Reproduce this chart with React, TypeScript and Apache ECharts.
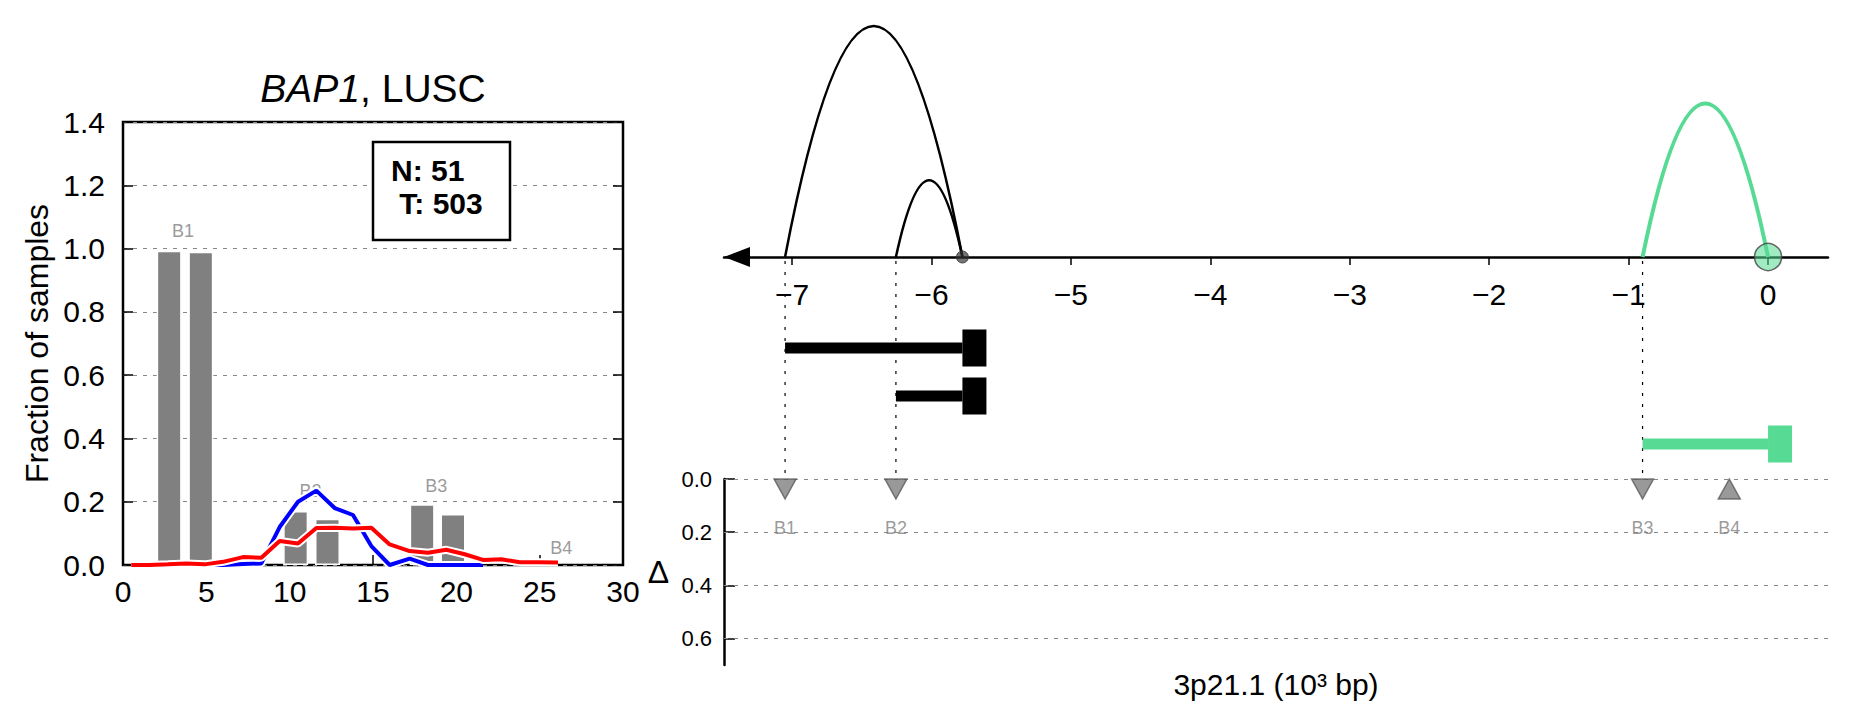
import React, { useEffect, useRef } from 'react';
import * as echarts from 'echarts';

// ---------------- Left panel: histogram ----------------
const barCenters = [2.77, 4.67, 10.36, 12.27, 17.95, 19.8];
const barValues = [0.993, 0.99, 0.171, 0.146, 0.192, 0.161];
const barGroupNames = ['B1', 'B2', 'B3', 'B4'];
const barGroupLabelX = [3.6, 11.25, 18.8, 26.3];
const barGroupLabelY = [1.055, 0.234, 0.249, 0.054];
const curveX = [0.5, 1.6, 2.7, 3.8, 4.9, 6.0, 7.2, 8.3, 9.4, 10.5, 11.6, 12.7, 13.8, 14.9, 16.0, 17.2, 18.3, 19.4, 20.5, 21.6, 22.7, 23.8, 24.9, 26.1];
const redCurve = [0, 0, 0.002, 0.005, 0.002, 0.01, 0.025, 0.023, 0.076, 0.068, 0.117, 0.118, 0.115, 0.118, 0.065, 0.044, 0.039, 0.048, 0.034, 0.016, 0.018, 0.009, 0.009, 0.008];
const blueCurve = [0, 0, 0, 0, 0, 0, 0.003, 0.005, 0.12, 0.2, 0.235, 0.18, 0.158, 0.06, 0, 0.02, 0, 0, 0, 0];
const sampleCounts = ['N: 51', ' T: 503'];
const histTitleItalic = 'BAP1';
const histTitleRest = ', LUSC';

// ---------------- Right panel: locus ----------------
const locusTicks = [-7, -6, -5, -4, -3, -2, -1, 0];
const arcStart = [-7.05, -6.255, -0.9];
const arcEnd = [-5.778, -5.778, 0];
const arcHeight = [0.962, 0.32, 0.64];
const arcGroup = [0, 0, 1];
const tssPos = [-5.778, 0];
const tssGroup = [0, 1];
const txStart = [-7.05, -6.255, -0.9];
const txEnd = [-5.778, -5.778, 0];
const txRow = [0, 1, 2];
const txGroup = [0, 0, 1];
const bpNames = ['B1', 'B2', 'B3', 'B4'];
const bpPos = [-7.05, -6.255, -0.9, -0.278];
const bpDelta = [0, 0, 0, 0];
const bpDir = ['down', 'down', 'down', 'up'];
const bpLinked = [true, true, true, false];
const deltaTicks = [0, 0.2, 0.4, 0.6];
const locusLabel = '3p21.1 (10³ bp)';
const deltaLabel = 'Δ';

const FONT = '"Liberation Sans", Arial, Helvetica, sans-serif';
const GREEN = '#57DB94';
const GRAY = '#808080';
const X_MIN = -7.488;
const X_MAX = 0.43;
const G0 = { left: 123, top: 122, width: 500, height: 443 };
const G1 = { left: 724, top: 17, width: 1104, height: 240 };
const G2 = { left: 724, top: 324, width: 1104, height: 144 };
const G3 = { left: 724, top: 479, width: 1104, height: 186 };

const minusFmt = (v: number) => (v < 0 ? '\u2212' + Math.abs(v) : String(v));

export default function App() {
  const ref = useRef<HTMLDivElement>(null);
  useEffect(() => {
    if (!ref.current) return;
    const chart = echarts.init(ref.current, undefined, { renderer: 'svg' });
    const tickStyle = { color: '#000', width: 1.5 };
    const option: any = {
      animation: false,
      textStyle: { fontFamily: FONT },
      grid: [
        { ...G0, show: true, borderColor: '#000', borderWidth: 2.5, backgroundColor: 'transparent' },
        G1,
        G2,
        G3,
      ],
      xAxis: [
        {
          gridIndex: 0, type: 'value', min: 0, max: 30, interval: 5,
          axisLine: { show: false },
          axisTick: { inside: true, length: 10, lineStyle: tickStyle },
          axisLabel: { fontSize: 30, color: '#000', margin: 11, fontFamily: FONT },
          splitLine: { show: false },
        },
        {
          gridIndex: 1, type: 'value', min: X_MIN, max: X_MAX,
          axisLine: { show: true, onZero: false, symbol: ['triangle', 'none'], symbolSize: [20, 26], symbolOffset: [13, 0], lineStyle: { color: '#000', width: 2.5 } },
          axisTick: { show: true, customValues: locusTicks, length: 8, lineStyle: tickStyle },
          axisLabel: { show: true, customValues: locusTicks, formatter: minusFmt, fontSize: 30, color: '#000', margin: 22, fontFamily: FONT },
          splitLine: { show: false },
        },
        { gridIndex: 2, type: 'value', min: X_MIN, max: X_MAX, show: false },
        {
          gridIndex: 3, type: 'value', min: X_MIN, max: X_MAX,
          axisLine: { show: false }, axisTick: { show: false }, axisLabel: { show: false }, splitLine: { show: false },
          name: locusLabel, nameLocation: 'middle', nameGap: 4,
          nameTextStyle: { fontSize: 30, color: '#000', fontFamily: FONT, verticalAlign: 'top' },
        },
      ],
      yAxis: [
        {
          gridIndex: 0, type: 'value', min: 0, max: 1.4, interval: 0.2,
          axisLine: { show: false },
          axisTick: { inside: true, length: 10, lineStyle: tickStyle },
          axisLabel: { formatter: (v: number) => v.toFixed(1), fontSize: 30, color: '#000', margin: 18, fontFamily: FONT },
          splitLine: { show: true, lineStyle: { type: [4, 6], color: '#888', width: 1.2 } },
          name: 'Fraction of samples', nameLocation: 'middle', nameGap: 70,
          nameTextStyle: { fontSize: 32, color: '#000', fontFamily: FONT },
        },
        {
          gridIndex: 0, type: 'value', min: 0, max: 1.4, interval: 0.2, position: 'right',
          axisLine: { show: false },
          axisTick: { inside: true, length: 10, lineStyle: tickStyle },
          axisLabel: { show: false }, splitLine: { show: false },
        },
        { gridIndex: 1, type: 'value', min: 0, max: 1, show: false },
        { gridIndex: 2, type: 'value', min: -0.5, max: 2.5, inverse: true, show: false },
        {
          gridIndex: 3, type: 'value', min: 0, max: 0.7, inverse: true,
          axisLine: { show: true, onZero: false, lineStyle: { color: '#000', width: 2.5 } },
          axisTick: { show: true, customValues: deltaTicks, inside: true, length: 11, lineStyle: tickStyle },
          axisLabel: { show: true, customValues: deltaTicks, formatter: (v: number) => v.toFixed(1), fontSize: 22, color: '#000', margin: 12, fontFamily: FONT },
          splitLine: { show: false },
          name: deltaLabel, nameLocation: 'middle', nameRotate: 0, nameGap: 55,
          nameTextStyle: { fontSize: 32, color: '#000', fontFamily: FONT },
        },
      ],
      graphic: [
        {
          type: 'text', x: 373, y: 88, z: 100,
          style: {
            text: '{i|' + histTitleItalic + '}' + histTitleRest,
            fontSize: 39, fontFamily: FONT, fill: '#000', align: 'center', verticalAlign: 'middle',
            rich: { i: { fontStyle: 'italic', fontSize: 39, fontFamily: FONT, fill: '#000', color: '#000' } },
          },
        },
        {
          type: 'rect', z: 100,
          shape: { x: 373, y: 142, width: 137, height: 98 },
          style: { fill: '#fff', stroke: '#000', lineWidth: 2.5 },
        },
        {
          type: 'text', x: 391, y: 187, z: 101,
          style: {
            text: sampleCounts.join('\n'), fontSize: 30, fontWeight: 'bold', fontFamily: FONT,
            fill: '#000', align: 'left', verticalAlign: 'middle', lineHeight: 33,
          },
        },
      ],
      series: [
        {
          type: 'bar', xAxisIndex: 0, yAxisIndex: 0, silent: true, z: 2,
          data: barCenters.map((x, i) => [x, barValues[i]]),
          barWidth: 25,
          itemStyle: { color: GRAY, borderColor: '#fff', borderWidth: 1.5 },
        },
        {
          type: 'scatter', xAxisIndex: 0, yAxisIndex: 0, silent: true, z: 2.5,
          symbolSize: 1, itemStyle: { color: 'transparent' },
          data: barGroupNames.map((n, i) => ({ name: n, value: [barGroupLabelX[i], barGroupLabelY[i]] })),
          label: { show: true, position: 'inside', formatter: '{b}', color: GRAY, fontSize: 18, fontFamily: FONT },
        },
        {
          type: 'line', xAxisIndex: 0, yAxisIndex: 0, silent: true, z: 3, symbol: 'none',
          data: blueCurve.map((v, i) => [curveX[i], v]),
          lineStyle: { color: '#fff', width: 8 },
        },
        {
          type: 'line', xAxisIndex: 0, yAxisIndex: 0, silent: true, z: 4, symbol: 'none',
          data: blueCurve.map((v, i) => [curveX[i], v]),
          lineStyle: { color: '#0000ff', width: 4 },
        },
        {
          type: 'line', xAxisIndex: 0, yAxisIndex: 0, silent: true, z: 5, symbol: 'none',
          data: redCurve.map((v, i) => [curveX[i], v]),
          lineStyle: { color: '#fff', width: 8 },
        },
        {
          type: 'line', xAxisIndex: 0, yAxisIndex: 0, silent: true, z: 6, symbol: 'none',
          data: redCurve.map((v, i) => [curveX[i], v]),
          lineStyle: { color: '#ff0000', width: 4 },
        },
        // arcs
        {
          type: 'custom', xAxisIndex: 1, yAxisIndex: 2, silent: true, z: 3, clip: false,
          data: arcStart.map((s, i) => [s, arcEnd[i], arcHeight[i], arcGroup[i]]),
          encode: { x: [0, 1], y: 2 },
          renderItem: (_p: any, api: any) => {
            const s = api.coord([api.value(0), 0]);
            const e = api.coord([api.value(1), 0]);
            const t = api.coord([api.value(0), api.value(2)]);
            const h = s[1] - t[1];
            const g = api.value(3);
            return {
              type: 'bezierCurve',
              shape: { x1: s[0], y1: s[1], x2: e[0], y2: e[1], cpx1: (s[0] + e[0]) / 2, cpy1: s[1] - 2 * h },
              style: { stroke: g ? GREEN : '#000', lineWidth: g ? 4 : 2.5, fill: 'none' },
            };
          },
        },
        // guide lines
        {
          type: 'custom', xAxisIndex: 1, yAxisIndex: 2, silent: true, z: 2, clip: false,
          data: bpPos.filter((_, i) => bpLinked[i]).map((x) => [x, 0]),
          encode: { x: 0, y: 1 },
          renderItem: (_p: any, api: any) => {
            const pt = api.coord([api.value(0), 0]);
            return {
              type: 'line',
              shape: { x1: pt[0], y1: pt[1] + 4, x2: pt[0], y2: G3.top - 2 },
              style: { stroke: '#000', lineWidth: 1.2, lineDash: [3, 8] },
            };
          },
        },
        // TSS markers
        {
          type: 'scatter', xAxisIndex: 1, yAxisIndex: 2, silent: true, z: 6, clip: false,
          data: tssPos.map((x, i) => (tssGroup[i]
            ? { value: [x, 0], symbolSize: 27, itemStyle: { color: 'rgba(87,219,148,0.7)', borderColor: '#444', borderWidth: 1.5 } }
            : { value: [x, 0], symbolSize: 12, itemStyle: { color: 'rgba(50,50,50,0.85)', borderColor: '#333', borderWidth: 1 } })),
        },
        // transcripts
        {
          type: 'custom', xAxisIndex: 2, yAxisIndex: 3, silent: true, z: 3, clip: false,
          data: txStart.map((s, i) => [s, txEnd[i], txRow[i], txGroup[i]]),
          encode: { x: [0, 1], y: 2 },
          renderItem: (_p: any, api: any) => {
            const s = api.coord([api.value(0), api.value(2)]);
            const e = api.coord([api.value(1), api.value(2)]);
            const c = api.value(3) ? GREEN : '#000';
            return {
              type: 'group',
              children: [
                { type: 'rect', shape: { x: s[0], y: s[1] - 5.5, width: e[0] - s[0], height: 11 }, style: { fill: c } },
                { type: 'rect', shape: { x: e[0], y: s[1] - 18.5, width: 24, height: 37 }, style: { fill: c } },
              ],
            };
          },
        },
        // breakpoints
        {
          type: 'scatter', xAxisIndex: 3, yAxisIndex: 4, silent: true, z: 5, clip: false,
          data: bpNames.map((n, i) => ({
            name: n,
            value: [bpPos[i], bpDelta[i]],
            symbol: bpDir[i] === 'down' ? 'path://M0,0L2,0L1,2Z' : 'triangle',
          })),
          symbolSize: [22, 20],
          symbolOffset: [0, 10],
          itemStyle: { color: 'rgba(105,105,105,0.85)', borderColor: 'rgba(80,80,80,0.9)', borderWidth: 1.5 },
          label: { show: true, position: 'bottom', distance: 19, formatter: '{b}', color: GRAY, fontSize: 18, fontFamily: FONT },
          markLine: {
            silent: true, symbol: ['none', 'none'], label: { show: false },
            lineStyle: { type: [4, 6], color: '#888', width: 1.2 },
            data: deltaTicks.map((v) => ({ yAxis: v })),
          },
        },
      ],
    };
    chart.setOption(option);
    return () => chart.dispose();
  }, []);
  return <div ref={ref} style={{ position: 'fixed', left: 0, top: 0, width: 1851, height: 718, background: '#fff' }} />;
}
